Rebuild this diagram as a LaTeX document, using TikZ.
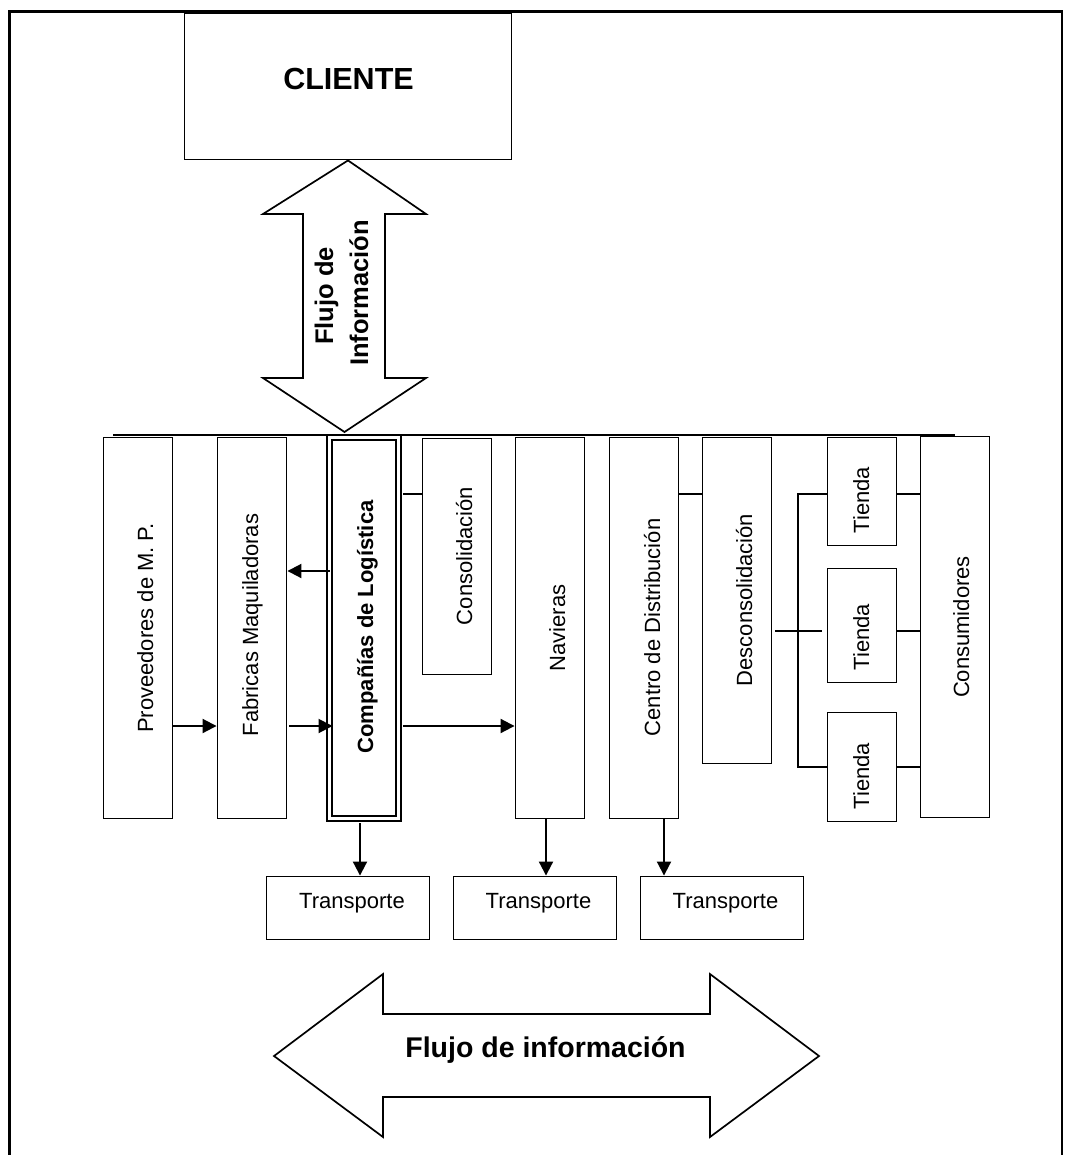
\documentclass[tikz,border=0pt]{standalone}
\usepackage{fontspec}
\setmainfont{Liberation Sans}
\usetikzlibrary{arrows.meta}

\tikzset{
  box/.style={draw, line width=1.9pt, inner sep=0pt, minimum width=69pt},
  dbox/.style={draw, line width=2pt, double, double distance=3pt, inner sep=0pt},
  tbox/.style={draw, line width=1.9pt, inner sep=0pt, minimum width=163pt, minimum height=63pt},
  vlbl/.style={font=\fontsize{22}{26}\selectfont, rotate=90, anchor=base, inner sep=0pt},
  hlbl/.style={font=\fontsize{22}{26}\selectfont, anchor=base, inner sep=0pt},
  conn/.style={line width=2pt},
  arr/.style={conn, -{Triangle[length=14pt,width=14pt]}},
  bigarrow/.style={draw, line width=1.7pt, line join=miter},
}

\begin{document}
\begin{tikzpicture}[x=1pt, y=-1pt]
\useasboundingbox (0,0) rectangle (1071,1155);

% frame
\draw[line width=2.6pt] (9.5,1160) -- (9.5,11.5) -- (1062,11.5) -- (1062,1160);

% client
\node[box, minimum width=327pt, minimum height=146pt] (cliente) at (348,86.5) {};
\node[font=\bfseries\fontsize{30.5}{36}\selectfont, anchor=base, inner sep=0pt] (clitxt) at (348.5,90) {CLIENTE};

% vertical information flow arrow
\draw[bigarrow] (cliente.south) -- (426,214) -- (385,214) -- (385,378) -- (426,378)
  -- (344.5,432) -- (263,378) -- (303,378) -- (303,214) -- (263,214) -- cycle;
\node[font=\bfseries\fontsize{25.5}{30}\selectfont, rotate=90, anchor=base, inner sep=0pt] (vf1) at (333,296) {Flujo de};
\node[font=\bfseries\fontsize{25.5}{30}\selectfont, rotate=90, anchor=base, inner sep=0pt] (vf2) at (368,293) {Información};

% chain bar
\coordinate (barL) at (113,435);
\coordinate (barR) at (955,435);
\draw[line width=2.3pt] (barL) -- (barR);

% chain boxes
\node[box, minimum height=381pt] (prov) at (138,628) {};
\node[box, minimum height=381pt] (fab) at (252,628) {};
\node[dbox, minimum width=69pt, minimum height=381pt] (comp) at (364,628) {};
\node[box, minimum height=236pt] (cons) at (457,556.5) {};
\node[box, minimum height=381pt] (nav) at (550,628) {};
\node[box, minimum height=381pt] (cdist) at (644,628) {};
\node[box, minimum height=326pt] (desc) at (737,600.5) {};
\node[box, minimum height=108pt] (t1) at (862,491.5) {};
\node[box, minimum height=114pt] (t2) at (862,625.5) {};
\node[box, minimum height=109pt] (t3) at (862,767) {};
\node[box, minimum height=381pt] (consum) at (955,627) {};

% chain labels
\node[vlbl] (provtxt) at (153,628) {Proveedores de M. P.};
\node[vlbl] (fabtxt) at (258,625) {Fabricas Maquiladoras};
\node[vlbl, font=\bfseries\fontsize{22}{26}\selectfont] (comptxt) at (373,627) {Compañías de Logística};
\node[vlbl] (constxt) at (472,556) {Consolidación};
\node[vlbl] (navtxt) at (565,628) {Navieras};
\node[vlbl] (cdisttxt) at (660,627.5) {Centro de Distribución};
\node[vlbl] (desctxt) at (752,600) {Desconsolidación};
\node[vlbl] (t1txt) at (869,500) {Tienda};
\node[vlbl] (t2txt) at (869,637) {Tienda};
\node[vlbl] (t3txt) at (869,776) {Tienda};
\node[vlbl] (consumtxt) at (969,627) {Consumidores};

% transport boxes
\node[tbox] (tr1) at (348,908) {};
\node[tbox] (tr2) at (535,908) {};
\node[tbox] (tr3) at (722,908) {};
\node[hlbl] (tr1txt) at (352,908) {Transporte};
\node[hlbl] (tr2txt) at (538.5,908) {Transporte};
\node[hlbl] (tr3txt) at (725.5,908) {Transporte};

% connector levels
\coordinate (yA) at (0,726);
\coordinate (yB) at (0,571);
\coordinate (yC) at (0,494);
\coordinate (yD) at (0,631);
\coordinate (yE) at (0,767);
\coordinate (compR) at ([xshift=3.5pt]comp.east);
\coordinate (compIn) at ([xshift=4pt]comp.west);
\coordinate (compB) at ([yshift=-3.5pt]comp.south);

% horizontal flow
\draw[arr] (prov.east |- yA) -- (fab.west |- yA);
\draw[arr] ([xshift=2pt]fab.east |- yA) -- (compIn |- yA);
\draw[arr] ([xshift=1pt]comp.west |- yB) -- (fab.east |- yB);
\draw[arr] (compR |- yA) -- (nav.west |- yA);
\draw[conn] (compR |- yC) -- (cons.west |- yC);
\draw[conn] (cdist.east |- yC) -- (desc.west |- yC);

% distribution to stores
\coordinate (bx) at (798,0);
\draw[conn] ([xshift=3pt]desc.east |- yD) -- ([xshift=-5pt]t2.west |- yD);
\draw[conn] (t1.west |- yC) -- (bx |- yC) -- (bx |- yE) -- (t3.west |- yE);
\foreach \tn/\yy in {t1/yC, t2/yD, t3/yE}
  \draw[conn] (\tn.east |- \yy) -- (consum.west |- \yy);

% transport arrows
\coordinate (xa) at (360,0);
\coordinate (xb) at (546,0);
\coordinate (xc) at (664,0);
\draw[arr] (xa |- compB) -- (xa |- tr1.north);
\draw[arr] (xb |- nav.south) -- (xb |- tr2.north);
\draw[arr] (xc |- cdist.south) -- (xc |- tr3.north);

% horizontal information flow arrow
\draw[bigarrow] (274,1056) -- (383,974) -- (383,1014) -- (710,1014) -- (710,974) -- (819,1056)
  -- (710,1137) -- (710,1097) -- (383,1097) -- (383,1137) -- cycle;
\node[font=\bfseries\fontsize{28.5}{34}\selectfont, anchor=base, inner sep=0pt] (hflow) at (545.5,1057) {Flujo de información};
\end{tikzpicture}
\end{document}
